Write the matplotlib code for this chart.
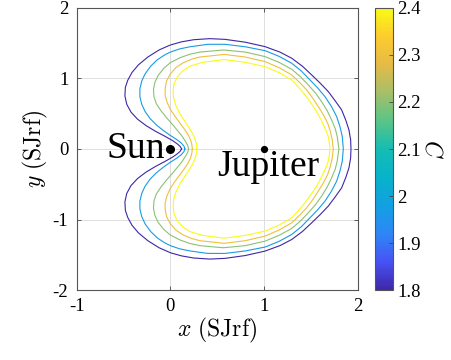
import numpy as np
import matplotlib
matplotlib.use("Agg")
import matplotlib.pyplot as plt
from matplotlib.colors import LinearSegmentedColormap, Normalize
from matplotlib.cm import ScalarMappable

plt.rcParams["font.family"] = ["Liberation Serif", "DejaVu Serif"]
plt.rcParams["mathtext.fontset"] = "cm"
plt.rcParams["axes.unicode_minus"] = False

# Jacobi constant levels of the drawn curves (outer -> inner)
levels = [1.8, 1.97, 2.2, 2.3, 2.4]

# upper halves of the zero-velocity curves
# (start at the left vertex on y=0, go over the top, end on y=0 at the right)
curve_x = [
    [0.12, 0.105, 0.07, 0.02, -0.06, -0.16, -0.26, -0.35, -0.42, -0.465, -0.485, -0.48, -0.455,
     -0.41, -0.34, -0.24, -0.12, 0.0, 0.12, 0.25, 0.42, 0.584, 0.80, 1.011, 1.17, 1.296, 1.41,
     1.509, 1.60, 1.687, 1.76, 1.829, 1.875, 1.907, 1.925, 1.929],
    [0.155, 0.145, 0.115, 0.07, 0.0, -0.075, -0.15, -0.217, -0.27, -0.305, -0.325, -0.325, -0.305,
     -0.27, -0.21, -0.14, -0.06, 0.0, 0.10, 0.21, 0.40, 0.584, 0.80, 1.011, 1.16, 1.296, 1.40,
     1.491, 1.575, 1.651, 1.72, 1.776, 1.812, 1.836, 1.847],
    [0.195, 0.185, 0.16, 0.12, 0.07, 0.02, -0.04, -0.10, -0.15, -0.175, -0.18, -0.165, -0.13,
     -0.07, 0.0, 0.104, 0.21, 0.317, 0.566, 0.80, 1.011, 1.16, 1.296, 1.39, 1.473, 1.55, 1.615,
     1.675, 1.722, 1.76, 1.782, 1.80],
    [0.235, 0.23, 0.215, 0.19, 0.15, 0.10, 0.05, 0.0, -0.035, -0.055, -0.055, -0.04, 0.0, 0.06,
     0.139, 0.23, 0.317, 0.575, 0.80, 1.011, 1.16, 1.296, 1.38, 1.456, 1.52, 1.58, 1.635, 1.68,
     1.71, 1.729, 1.74],
    [0.285, 0.28, 0.265, 0.24, 0.20, 0.15, 0.10, 0.06, 0.035, 0.03, 0.04, 0.075, 0.13, 0.20,
     0.28, 0.352, 0.575, 0.80, 1.011, 1.16, 1.296, 1.37, 1.438, 1.50, 1.562, 1.61, 1.651, 1.68,
     1.694, 1.704],
]
curve_y = [
    [0.0, 0.035, 0.075, 0.12, 0.18, 0.25, 0.33, 0.42, 0.52, 0.63, 0.75, 0.87, 0.97,
     1.08, 1.19, 1.30, 1.40, 1.47, 1.515, 1.545, 1.56, 1.55, 1.51, 1.447, 1.37, 1.283, 1.17,
     1.047, 0.93, 0.81, 0.68, 0.552, 0.40, 0.269, 0.13, 0.0],
    [0.0, 0.04, 0.085, 0.13, 0.19, 0.26, 0.34, 0.43, 0.53, 0.63, 0.74, 0.85, 0.96,
     1.06, 1.17, 1.26, 1.33, 1.37, 1.415, 1.445, 1.48, 1.48, 1.445, 1.39, 1.31, 1.212, 1.10,
     0.976, 0.86, 0.74, 0.60, 0.457, 0.31, 0.174, 0.0],
    [0.0, 0.05, 0.11, 0.19, 0.27, 0.35, 0.44, 0.54, 0.64, 0.74, 0.84, 0.94, 1.04,
     1.14, 1.22, 1.29, 1.34, 1.37, 1.40, 1.37, 1.306, 1.225, 1.127, 1.02, 0.905, 0.79, 0.669,
     0.54, 0.41, 0.29, 0.174, 0.0],
    [0.0, 0.06, 0.13, 0.20, 0.28, 0.37, 0.46, 0.56, 0.66, 0.76, 0.86, 0.96, 1.06, 1.15,
     1.22, 1.27, 1.30, 1.337, 1.30, 1.235, 1.15, 1.047, 0.94, 0.834, 0.72, 0.598, 0.48, 0.363,
     0.24, 0.127, 0.0],
    [0.0, 0.06, 0.13, 0.21, 0.30, 0.40, 0.50, 0.61, 0.72, 0.82, 0.92, 1.02, 1.10, 1.165,
     1.20, 1.226, 1.264, 1.225, 1.164, 1.08, 0.976, 0.87, 0.764, 0.65, 0.528, 0.41, 0.293, 0.20,
     0.127, 0.0],
]

bodies = ["Sun", "Jupiter"]
body_x = [0.0, 1.0]
body_y = [0.0, 0.0]

cbar_ticks = [1.8, 1.9, 2.0, 2.1, 2.2, 2.3, 2.4]
cbar_labels = ["1.8", "1.9", "2", "2.1", "2.2", "2.3", "2.4"]

# rough MATLAB parula
parula = LinearSegmentedColormap.from_list("parula", [
    (0.2422, 0.1504, 0.6603), (0.2810, 0.3228, 0.9579), (0.1786, 0.5289, 0.9682),
    (0.0689, 0.6279, 0.8871), (0.0267, 0.7013, 0.7929), (0.0800, 0.7400, 0.7000),
    (0.3500, 0.7700, 0.5300), (0.6500, 0.7500, 0.4100), (0.9000, 0.7300, 0.2800),
    (0.9900, 0.8000, 0.1800), (0.9769, 0.9839, 0.0805)])
norm = Normalize(1.8, 2.4)

fig = plt.figure(figsize=(4.51, 3.60), dpi=100)
ax = fig.add_axes([0.170, 0.194, 0.623, 0.785])
cax = fig.add_axes([0.831, 0.194, 0.040, 0.784])

for lev, cx, cy in zip(levels, curve_x, curve_y):
    cx = np.asarray(cx)
    cy = np.asarray(cy)
    xs = np.r_[cx, cx[-2::-1]]
    ys = np.r_[cy, -cy[-2::-1]]
    ax.plot(xs, ys, color=parula(norm(lev)), lw=0.8)

ax.plot(body_x[0], body_y[0], "o", color="k", ms=5.5)
ax.plot(body_x[1], body_y[1], "o", color="k", ms=4.2)
ax.text(-0.68, -0.13, bodies[0], fontsize=27, ha="left", va="baseline")
ax.text(0.50, -0.39, bodies[1], fontsize=27, ha="left", va="baseline")

ax.set_xlim(-1, 2)
ax.set_ylim(-2, 2)
ax.set_xticks([-1, 0, 1, 2])
ax.set_yticks([-2, -1, 0, 1, 2])
ax.grid(True, color="#dedede", lw=0.7)
ax.set_axisbelow(True)
ax.tick_params(direction="in", length=3, width=0.6, color="#444444", labelsize=13.5,
               top=True, right=True, pad=6)
for s in ax.spines.values():
    s.set_color("#555555")
    s.set_linewidth(0.8)
ax.set_xlabel(r"$x\ (\mathrm{SJrf})$", fontsize=17, labelpad=0)
ax.set_ylabel(r"$y\ (\mathrm{SJrf})$", fontsize=17, labelpad=2)

cb = fig.colorbar(ScalarMappable(norm=norm, cmap=parula), cax=cax)
cb.set_ticks(cbar_ticks)
cb.set_ticklabels(cbar_labels)
cb.ax.tick_params(direction="in", length=3, width=0.6, color="#444444", labelsize=13.5, pad=3)
cb.outline.set_edgecolor("#555555")
cb.outline.set_linewidth(0.8)
cb.set_label(r"$C$", fontsize=17, rotation=-90, labelpad=16)

fig.savefig("out.png", dpi=100)
